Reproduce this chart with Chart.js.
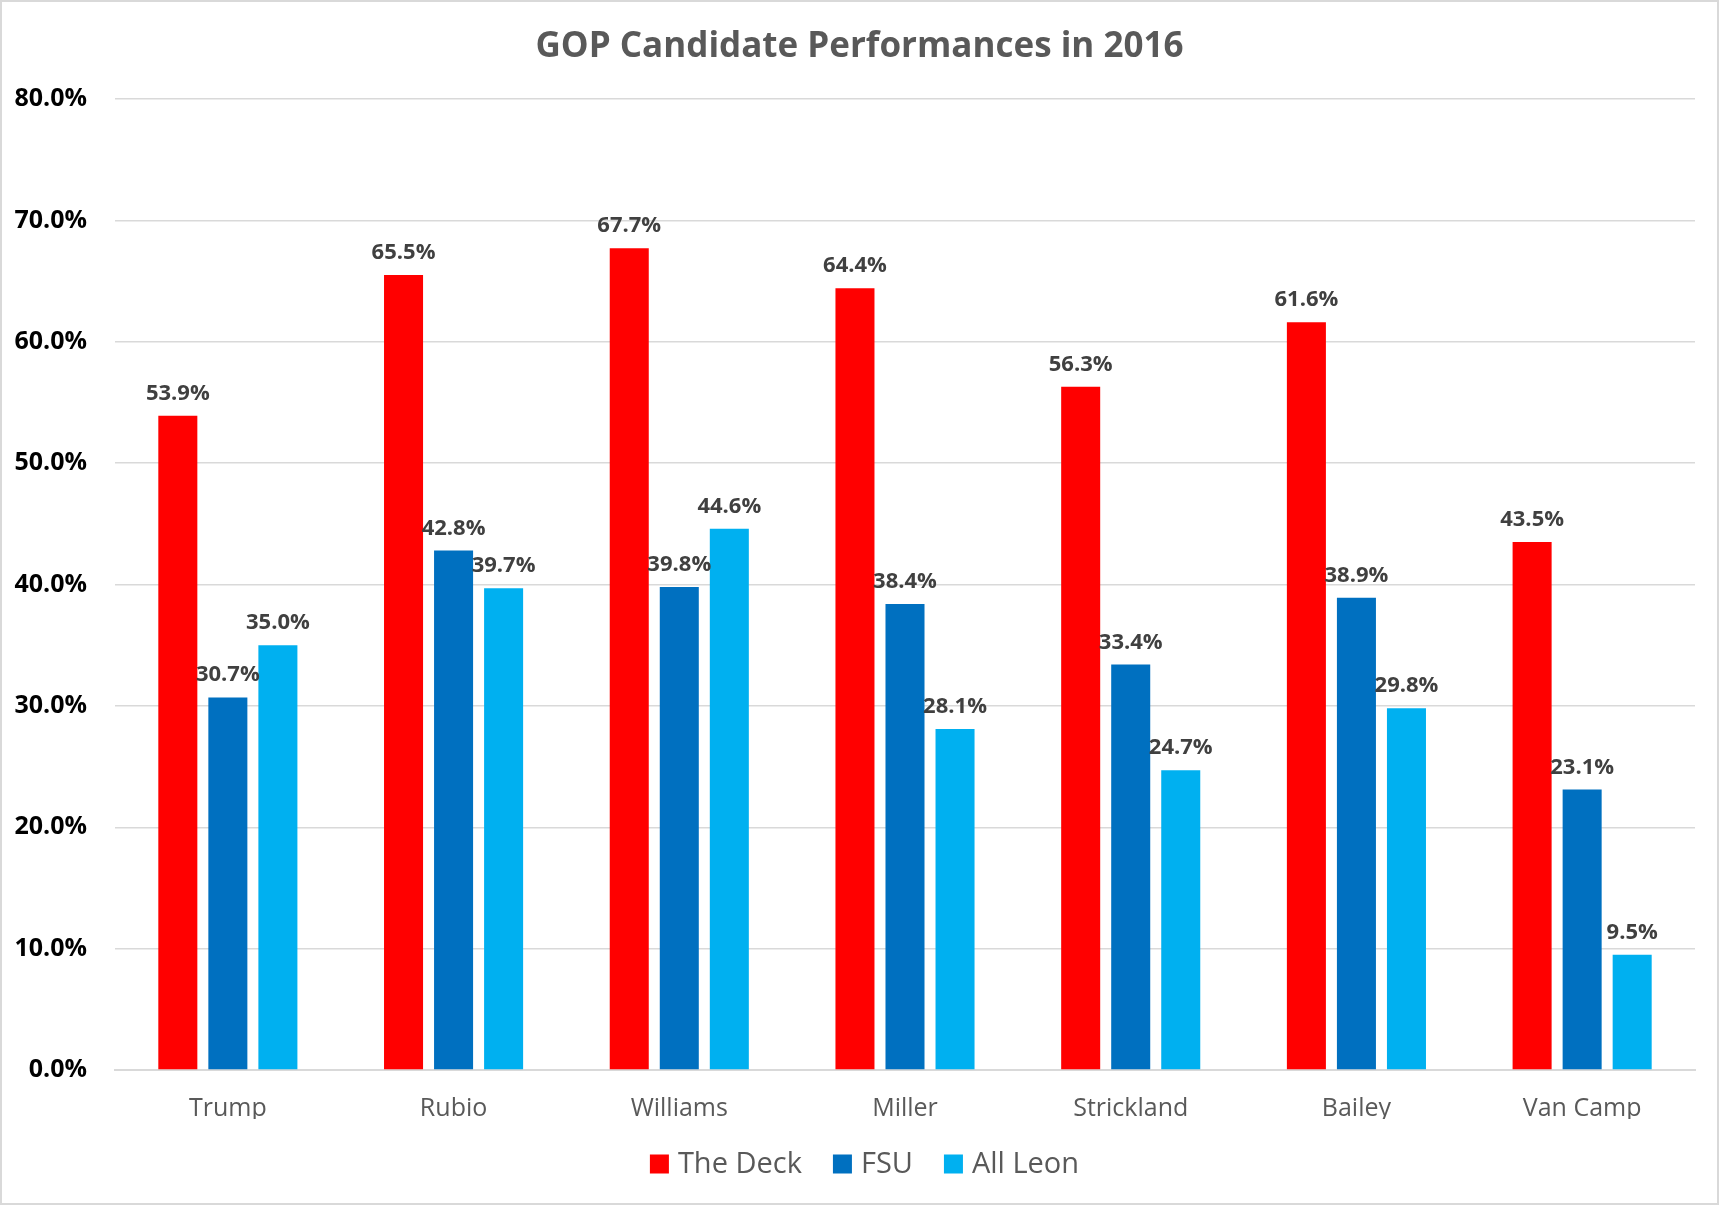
<!DOCTYPE html>
<html>
<head>
<meta charset="utf-8">
<title>GOP Candidate Performances in 2016</title>
<script src="https://cdn.jsdelivr.net/npm/chart.js@4/dist/chart.umd.min.js"></script>
<style>
    html, body { margin: 0; padding: 0; background: #ffffff; }
    #chartWrap { width: 1719px; height: 1205px; position: relative; }
</style>
</head>
<body>
<div id="chartWrap">
    <canvas id="gopChart"></canvas>
</div>
<script>
/**
 * GOP candidate performance chart data
 */
const candidates = ['Trump', 'Rubio', 'Williams', 'Miller', 'Strickland', 'Bailey', 'Van Camp'];
const deckData = [53.9, 65.5, 67.7, 64.4, 56.3, 61.6, 43.5];
const fsuData = [30.7, 42.8, 39.8, 38.4, 33.4, 38.9, 23.1];
const allLeonData = [35.0, 39.7, 44.6, 28.1, 24.7, 29.8, 9.5];
const yTicks = [0, 10, 20, 30, 40, 50, 60, 70, 80];

// White background and light frame around the whole chart
const frameBackground = {
    id: 'frameBackground',
    beforeDraw(chart) {
        const { ctx, width, height } = chart;
        ctx.save();
        ctx.fillStyle = '#ffffff';
        ctx.fillRect(0, 0, width, height);
        ctx.strokeStyle = '#d9d9d9';
        ctx.lineWidth = 2;
        ctx.strokeRect(1, 1, width - 2, height - 2);
        ctx.restore();
    }
};

// Value labels above each bar
const barValueLabels = {
    id: 'barValueLabels',
    afterDatasetsDraw(chart) {
        const { ctx } = chart;
        ctx.save();
        ctx.font = 'bold 22px "Open Sans"';
        ctx.fillStyle = '#404040';
        ctx.textAlign = 'center';
        ctx.textBaseline = 'alphabetic';
        chart.data.datasets.forEach((dataset, i) => {
            const meta = chart.getDatasetMeta(i);
            meta.data.forEach((bar, j) => {
                ctx.fillText(dataset.data[j].toFixed(1) + '%', bar.x, bar.y - 16);
            });
        });
        ctx.restore();
    }
};

// Excel-style legend: square swatch with a tight gap before the text
const bottomLegend = {
    id: 'bottomLegend',
    afterDraw(chart) {
        const { ctx } = chart;
        const box = 19;
        const boxGap = 9;
        const itemGap = 31;
        const centerY = 1164;
        ctx.save();
        ctx.font = '29px "Open Sans"';
        ctx.textBaseline = 'middle';
        ctx.textAlign = 'left';
        const items = chart.data.datasets.map(ds => ({
            text: ds.label,
            color: ds.backgroundColor,
            width: ctx.measureText(ds.label).width
        }));
        const total = items.reduce((sum, it) => sum + box + boxGap + it.width, 0) + itemGap * (items.length - 1);
        let x = chart.width / 2 + 5 - total / 2;
        items.forEach(it => {
            ctx.fillStyle = it.color;
            ctx.fillRect(x, centerY - box / 2, box, box);
            x += box + boxGap;
            ctx.fillStyle = '#595959';
            ctx.fillText(it.text, x, centerY + 1);
            x += it.width + itemGap;
        });
        ctx.restore();
    }
};

const ctx = document.getElementById('gopChart');

new Chart(ctx, {
    type: 'bar',
    data: {
        labels: candidates,
        datasets: [
            {
                label: 'The Deck',
                data: deckData,
                backgroundColor: '#ff0000' // Red
            },
            {
                label: 'FSU',
                data: fsuData,
                backgroundColor: '#0070c0' // Blue
            },
            {
                label: 'All Leon',
                data: allLeonData,
                backgroundColor: '#00b0f0' // Light blue
            }
        ]
    },
    options: {
        responsive: true,
        maintainAspectRatio: false,
        animation: false,
        categoryPercentage: 0.665,
        barPercentage: 0.78,
        layout: {
            // bottom padding leaves room for the custom legend
            padding: { left: 0, right: 0, top: 0, bottom: 86 }
        },
        plugins: {
            title: {
                display: true,
                text: 'GOP Candidate Performances in 2016',
                color: '#595959',
                font: { family: '"Open Sans"', size: 35, weight: 'bold', lineHeight: 1.2 },
                padding: { top: 26, bottom: 31 }
            },
            legend: { display: false },
            tooltip: { enabled: false }
        },
        scales: {
            x: {
                grid: { display: false, drawTicks: false },
                border: { display: true, color: '#d9d9d9', width: 2 },
                ticks: {
                    color: '#595959',
                    font: { family: '"Open Sans"', size: 25 },
                    padding: 24
                },
                afterFit(scale) {
                    scale.height = 49;
                }
            },
            y: {
                min: yTicks[0],
                max: yTicks[yTicks.length - 1],
                afterBuildTicks(scale) {
                    scale.ticks = yTicks.map(v => ({ value: v }));
                },
                grid: { color: '#d9d9d9', lineWidth: 1.5, drawTicks: false },
                border: { display: false },
                ticks: {
                    color: '#000000',
                    font: { family: '"Open Sans"', size: 25, weight: 'bold' },
                    padding: 28,
                    callback: v => v.toFixed(1) + '%'
                },
                afterFit(scale) {
                    scale.width = 115;
                }
            },
            // empty right-hand axis, only keeps a margin so the title stays centred on the canvas
            yRight: {
                position: 'right',
                grid: { display: false, drawTicks: false },
                border: { display: false },
                ticks: { display: false },
                afterFit(scale) {
                    scale.width = 24;
                }
            }
        }
    },
    plugins: [frameBackground, barValueLabels, bottomLegend]
});
</script>
</body>
</html>
